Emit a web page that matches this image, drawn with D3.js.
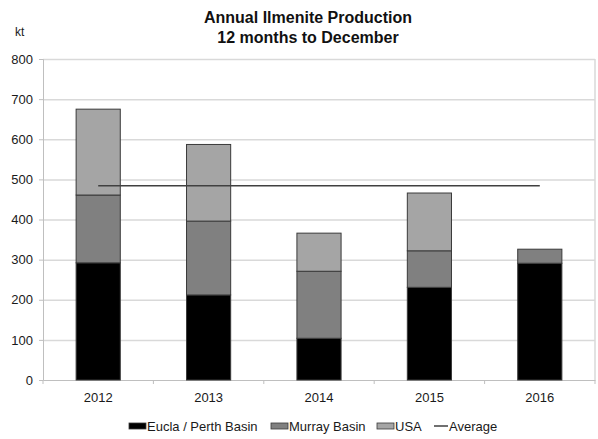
<!DOCTYPE html>
<html>
<head>
<meta charset="utf-8">
<script src="https://cdn.jsdelivr.net/npm/d3@7"></script>
<style>
  body { margin: 0; background: #fff; }
  svg { font-family: "Liberation Sans", Arial, sans-serif; }
</style>
</head>
<body>
<svg width="598" height="439"></svg>
<script>
const years = ["2012", "2013", "2014", "2015", "2016"]
const eucla = [292, 212, 104, 231, 291]
const murray = [169, 184, 167, 91, 35]
const usa = [214, 191, 95, 144, 0]
const average = [484, 484, 484, 484, 484]
const yTicks = [0, 100, 200, 300, 400, 500, 600, 700, 800]
const seriesNames = ["Eucla / Perth Basin", "Murray Basin", "USA"]

const width = 598
const height = 439
const margin = {top: 59, right: 3, bottom: 59, left: 43}
const font = "Liberation Sans, Arial, sans-serif"

const svg = d3.select("svg")

const data = years.map((y, i) => ({year: y, "Eucla / Perth Basin": eucla[i], "Murray Basin": murray[i], "USA": usa[i]}))
const stacked = d3.stack().keys(seriesNames)(data)

const x = d3.scaleBand()
    .domain(years)
    .range([margin.left, width - margin.right])
    .paddingInner(0.6)
    .paddingOuter(0.3)

const xb = d3.scaleBand()
    .domain(years)
    .range([margin.left, width - margin.right])

const y = d3.scaleLinear()
    .domain([0, 800])
    .range([height - margin.bottom, margin.top])

const color = d3.scaleOrdinal()
    .domain(seriesNames)
    .range(["#000000", "#808080", "#a5a5a5"])

// grid
svg.append("g")
    .selectAll("line")
    .data(yTicks.slice(1))
    .join("line")
    .attr("x1", margin.left)
    .attr("x2", width - margin.right)
    .attr("y1", d => y(d) + 0.5)
    .attr("y2", d => y(d) + 0.5)
    .attr("stroke", "#d9d9d9")
    .attr("stroke-width", 1.5)

svg.append("line")
    .attr("x1", width - margin.right)
    .attr("x2", width - margin.right)
    .attr("y1", y(800))
    .attr("y2", y(0))
    .attr("stroke", "#d9d9d9")
    .attr("stroke-width", 1.5)

// y axis
const yAxis = svg.append("g")
    .attr("transform", `translate(${margin.left},0)`)
    .call(d3.axisLeft(y).tickValues(yTicks).tickSize(4).tickPadding(6))
yAxis.selectAll("path, line").attr("stroke", "#bfbfbf")
yAxis.selectAll("text").attr("font-size", 13).attr("fill", "#1a1a1a").attr("font-family", font)

// x axis
const xAxis = svg.append("g")
    .attr("transform", `translate(0,${y(0)})`)
    .call(d3.axisBottom(xb).tickSize(0).tickPadding(13))
xAxis.select(".domain").attr("stroke", "#bfbfbf")
xAxis.selectAll("text").attr("font-size", 13).attr("fill", "#1a1a1a").attr("font-family", font)

svg.append("g")
    .selectAll("line")
    .data(years.concat(["end"]))
    .join("line")
    .attr("x1", (d, i) => margin.left + i * xb.bandwidth())
    .attr("x2", (d, i) => margin.left + i * xb.bandwidth())
    .attr("y1", y(0))
    .attr("y2", y(0) + 4)
    .attr("stroke", "#bfbfbf")

// bars
svg.append("g")
    .selectAll("g")
    .data(stacked)
    .join("g")
    .attr("fill", d => color(d.key))
    .selectAll("rect")
    .data(d => d.filter(s => s[1] > s[0]))
    .join("rect")
    .attr("x", d => x(d.data.year))
    .attr("y", d => y(d[1]))
    .attr("width", x.bandwidth())
    .attr("height", d => y(d[0]) - y(d[1]))
    .attr("stroke", "#3a3a3a")
    .attr("stroke-width", 1)

// average line
const line = d3.line()
    .x((d, i) => xb(years[i]) + xb.bandwidth() / 2)
    .y(d => y(d))

svg.append("path")
    .datum(average)
    .attr("d", line)
    .attr("fill", "none")
    .attr("stroke", "#404040")
    .attr("stroke-width", 1.5)

// titles
svg.append("text")
    .attr("x", 308).attr("y", 23)
    .attr("text-anchor", "middle")
    .attr("font-size", 16).attr("font-weight", "bold").attr("fill", "#111")
    .text("Annual Ilmenite Production")
svg.append("text")
    .attr("x", 308).attr("y", 43)
    .attr("text-anchor", "middle")
    .attr("font-size", 16).attr("font-weight", "bold").attr("fill", "#111")
    .text("12 months to December")
svg.append("text")
    .attr("x", 15).attr("y", 36)
    .attr("font-size", 12).attr("fill", "#1a1a1a")
    .text("kt")

// legend
const legendItems = [
    {name: "Eucla / Perth Basin", x: 129, type: "rect"},
    {name: "Murray Basin", x: 271, type: "rect"},
    {name: "USA", x: 377, type: "rect"},
    {name: "Average", x: 434, type: "line"}
]
const lg = svg.append("g")
    .selectAll("g")
    .data(legendItems)
    .join("g")
    .attr("transform", d => `translate(${d.x},426)`)

lg.filter(d => d.type === "rect").append("rect")
    .attr("x", 0).attr("y", -3)
    .attr("width", 17).attr("height", 6)
    .attr("fill", d => color(d.name))
    .attr("stroke", "#3a3a3a")
    .attr("stroke-width", 0.8)

lg.filter(d => d.type === "line").append("line")
    .attr("x1", 0).attr("x2", 14)
    .attr("y1", 0).attr("y2", 0)
    .attr("stroke", "#404040")
    .attr("stroke-width", 1.5)

lg.append("text")
    .attr("x", d => d.type === "rect" ? 18 : 15)
    .attr("y", 0)
    .attr("dy", "0.35em")
    .attr("font-size", 13).attr("fill", "#1a1a1a")
    .text(d => d.name)
</script>
</body>
</html>
